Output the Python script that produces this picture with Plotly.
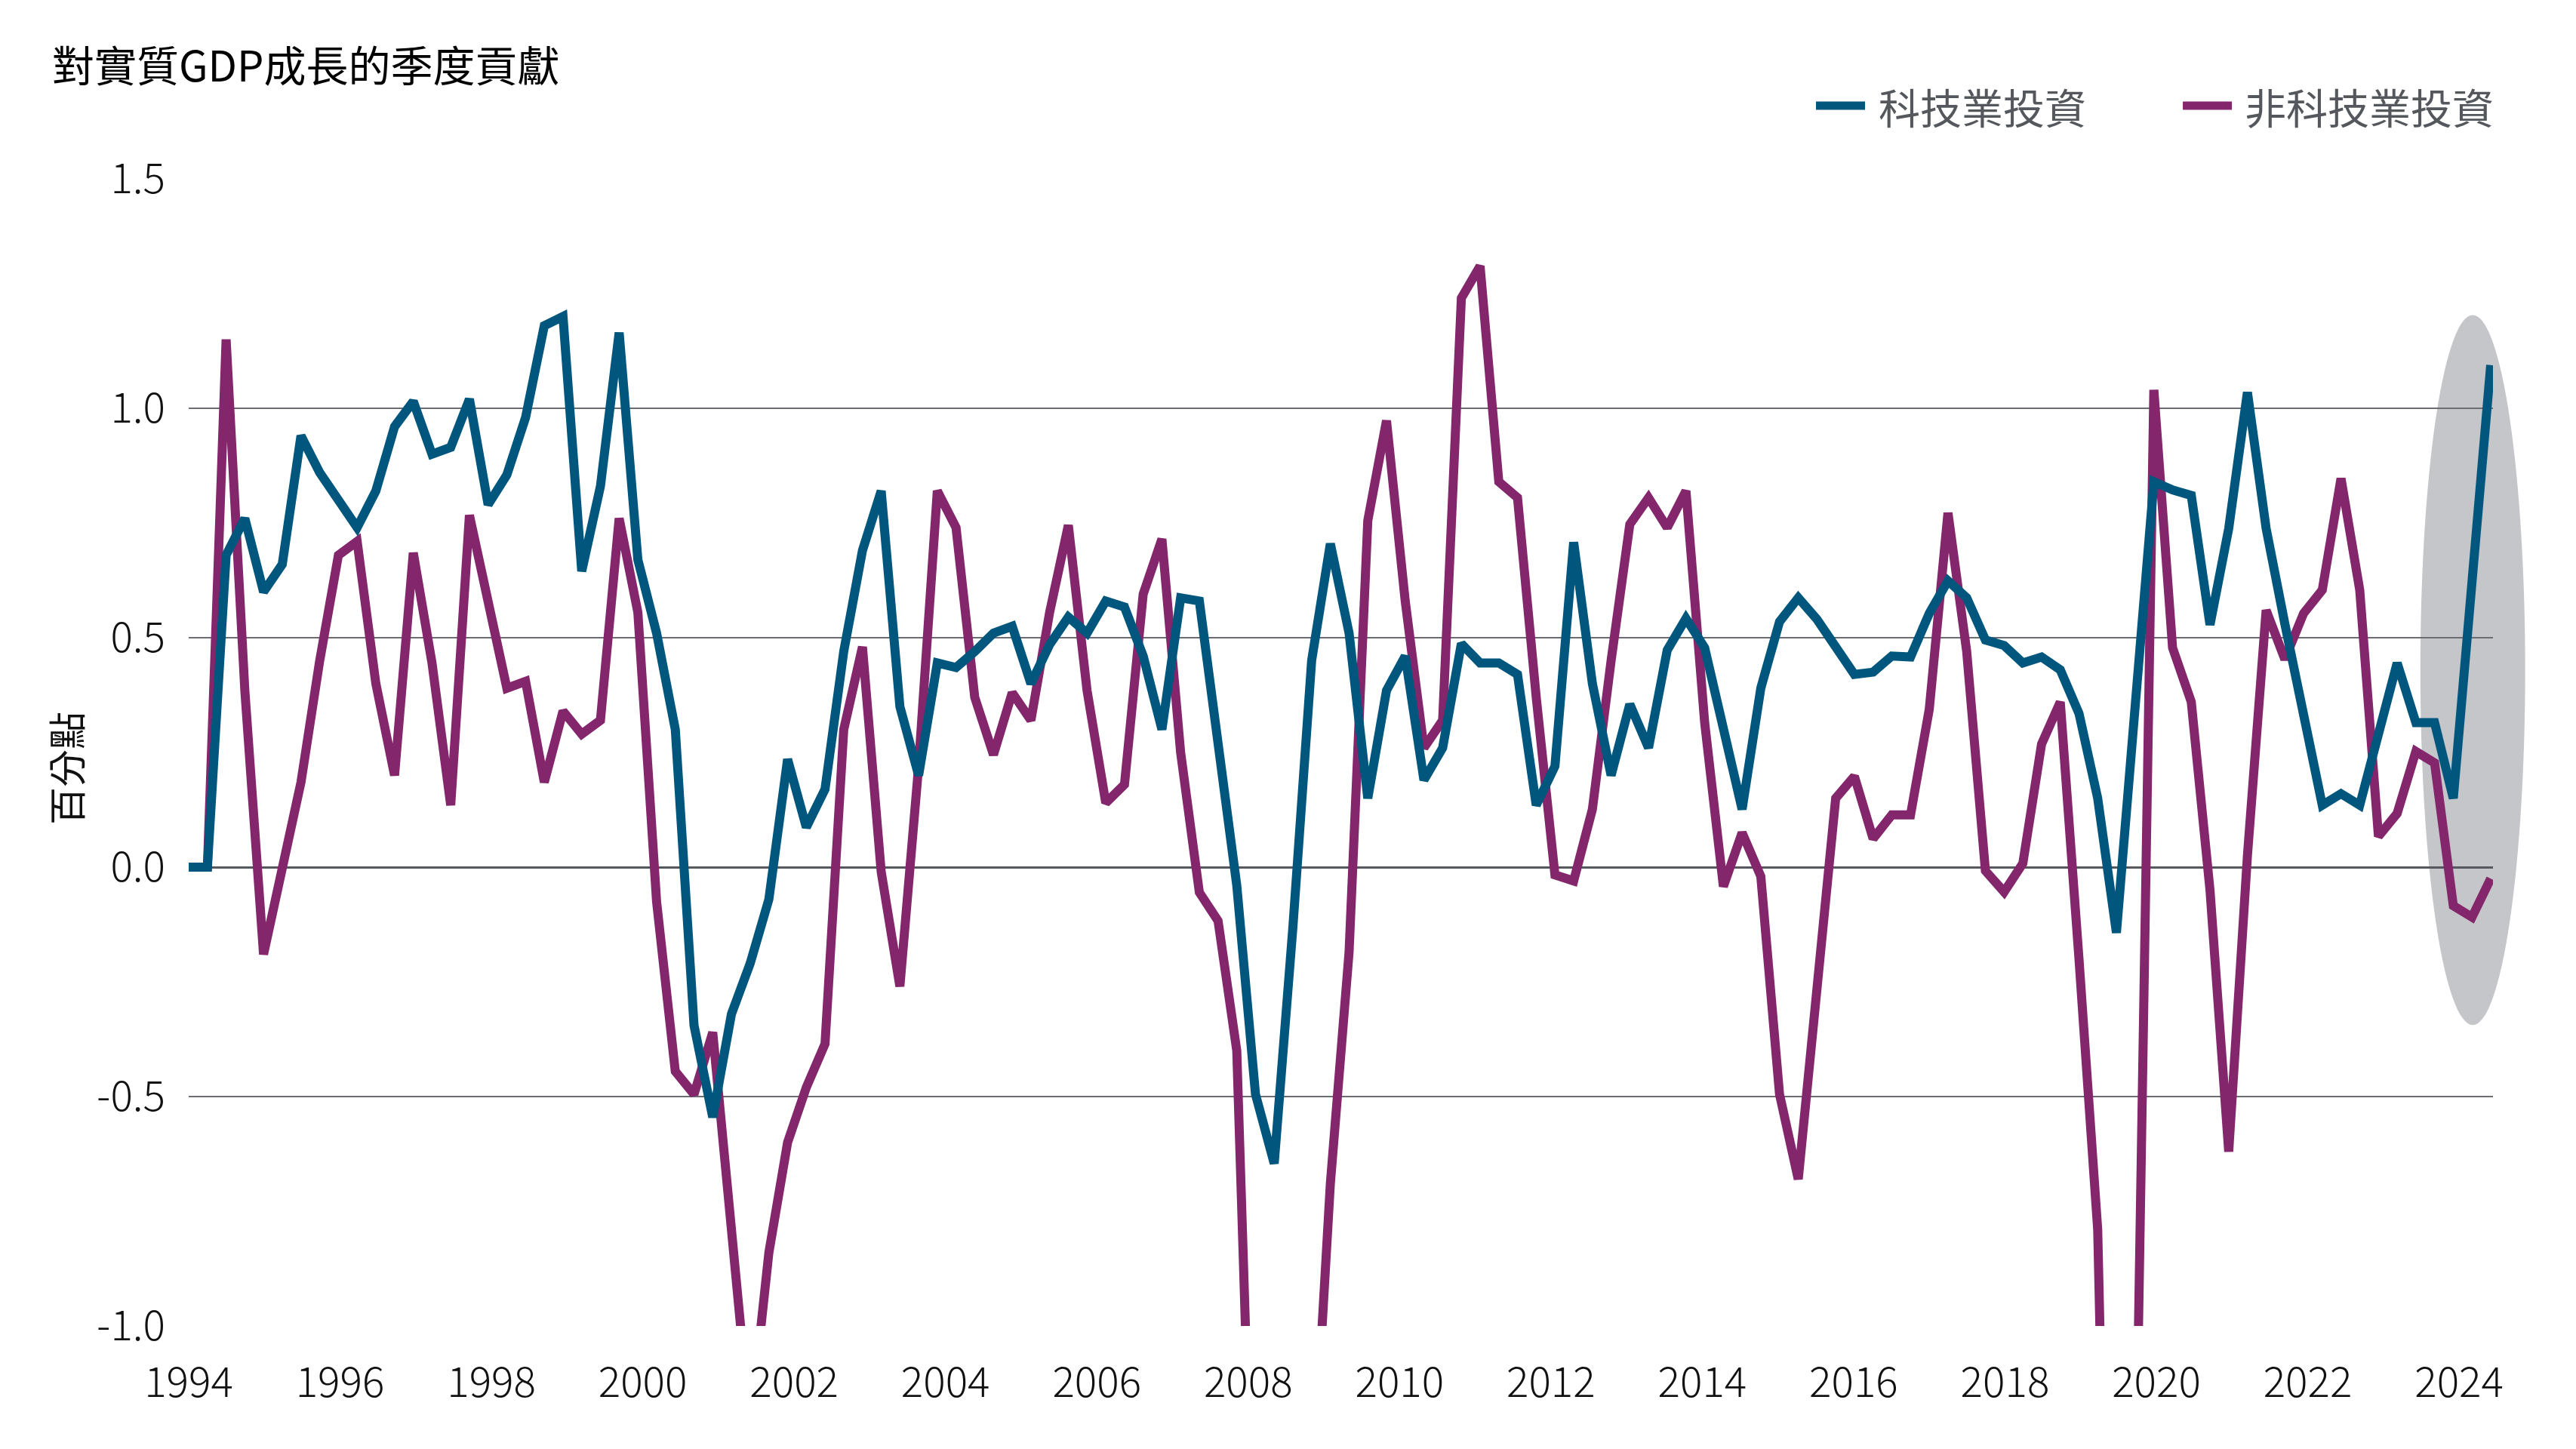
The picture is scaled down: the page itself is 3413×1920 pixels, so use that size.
import pandas as pd
import plotly.graph_objects as go

# 季度 1994Q1 - 2024Q4
quarters = pd.period_range("1994Q1", "2024Q4", freq="Q")

tech = [
    0.00, 0.00, 0.68, 0.76, 0.60, 0.66, 0.94, 0.86, 0.80, 0.74,
    0.82, 0.96, 1.015, 0.90, 0.915, 1.02, 0.79, 0.855, 0.98, 1.18,
    1.20, 0.645, 0.83, 1.165, 0.67, 0.51, 0.30, -0.345, -0.545, -0.32,
    -0.21, -0.07, 0.235, 0.087, 0.17, 0.47, 0.69, 0.82, 0.35, 0.20,
    0.445, 0.435, 0.47, 0.51, 0.525, 0.40, 0.485, 0.545, 0.51, 0.58,
    0.567, 0.46, 0.30, 0.587, 0.58, 0.28, -0.04, -0.495, -0.646, -0.13,
    0.45, 0.705, 0.51, 0.15, 0.385, 0.46, 0.19, 0.26, 0.487, 0.445,
    0.445, 0.42, 0.135, 0.22, 0.708, 0.40, 0.20, 0.355, 0.26, 0.473,
    0.542, 0.478, 0.30, 0.126, 0.39, 0.535, 0.587, 0.54, 0.48, 0.42,
    0.425, 0.46, 0.458, 0.553, 0.624, 0.587, 0.495, 0.483, 0.445, 0.458,
    0.43, 0.335, 0.15, -0.143, 0.35, 0.84, 0.822, 0.81, 0.528, 0.738,
    1.035, 0.738, 0.53, 0.33, 0.135, 0.16, 0.135, 0.29, 0.445, 0.315,
    0.315, 0.15, 0.60, 1.094,
]

non_tech = [
    0.00, 0.00, 1.15, 0.385, -0.19, -0.01, 0.185, 0.45, 0.68, 0.71,
    0.40, 0.20, 0.685, 0.445, 0.135, 0.767, 0.57, 0.39, 0.405, 0.185,
    0.34, 0.29, 0.32, 0.76, 0.555, -0.075, -0.445, -0.495, -0.36, -0.81,
    -1.22, -0.84, -0.60, -0.48, -0.385, 0.30, 0.48, -0.01, -0.26, 0.22,
    0.82, 0.74, 0.37, 0.245, 0.38, 0.32, 0.555, 0.745, 0.385, 0.14,
    0.18, 0.595, 0.715, 0.25, -0.055, -0.117, -0.40, -1.7, -2.2, -2.1,
    -1.43, -0.69, -0.185, 0.755, 0.973, 0.58, 0.26, 0.32, 1.24, 1.31,
    0.84, 0.805, 0.37, -0.017, -0.03, 0.126, 0.45, 0.747, 0.805, 0.74,
    0.82, 0.315, -0.042, 0.075, -0.02, -0.495, -0.68, -0.24, 0.15, 0.198,
    0.062, 0.114, 0.114, 0.344, 0.772, 0.47, -0.008, -0.054, 0.008, 0.268,
    0.36, -0.20, -0.79, -2.6, -1.45, 1.04, 0.478, 0.36, -0.05, -0.62,
    0.025, 0.56, 0.453, 0.553, 0.604, 0.847, 0.604, 0.067, 0.117, 0.252,
    0.227, -0.084, -0.109, -0.025,
]

series_names = ["科技業投資", "非科技業投資"]
y_ticks = [-1.0, -0.5, 0.0, 0.5, 1.0, 1.5]
y_tick_labels = ["-1.0", "-0.5", "0.0", "0.5", "1.0", "1.5"]
x_tick_years = list(range(1994, 2025, 2))

BLUE = "#00567c"
PURPLE = "#84266b"
FONT = "Noto Sans CJK TC"

x = [q.year + (q.quarter - 1) / 4 for q in quarters]
x_range = [x[0], x[-1] + 0.03]

# 原圖年份標籤比季度資料點略寬一些 (每年約 1.011 個刻度單位)
label_step = 1.0109
tick_pos = [1994 + (y - 1994) * label_step for y in x_tick_years]

fig = go.Figure()
fig.add_trace(go.Scatter(x=x, y=non_tech, mode="lines", name=series_names[1],
                         line=dict(color=PURPLE, width=12)))
fig.add_trace(go.Scatter(x=x, y=tech, mode="lines", name=series_names[0],
                         line=dict(color=BLUE, width=12)))

# 2024 標示橢圓
ell_x = [2023.81, 2025.21]
to_paper = lambda v: (v - x_range[0]) / (x_range[1] - x_range[0])
fig.add_shape(type="circle", xref="paper", yref="y",
              x0=to_paper(ell_x[0]), x1=to_paper(ell_x[1]), y0=-0.344, y1=1.203,
              fillcolor="#c5c6ca", line=dict(width=0), layer="below")

# 圖例（手動）
legend_items = [(series_names[0], BLUE, 0.7062, 0.7275, 0.7327),
                (series_names[1], PURPLE, 0.8654, 0.8867, 0.8916)]
for name, color, x0, x1, xt in legend_items:
    fig.add_shape(type="line", xref="paper", yref="paper", x0=x0, x1=x1,
                  y0=1.0638, y1=1.0638, line=dict(color=color, width=11))
    fig.add_annotation(text=name, xref="paper", yref="paper", x=xt, y=1.0638,
                       xanchor="left", yanchor="middle", showarrow=False,
                       font=dict(family=FONT, size=55, color="#54575c"))

fig.add_annotation(text="百分點", xref="paper", yref="paper", x=-0.0535, y=0.486,
                   textangle=-90, showarrow=False, xanchor="center", yanchor="middle",
                   font=dict(family=FONT, size=50, color="#111111"))

# 頁面 body 有 8px 邊距，圖寬高扣掉
fig.update_layout(
    width=3405, height=1912,
    margin=dict(l=242, r=110, t=229, b=163),
    paper_bgcolor="white", plot_bgcolor="white",
    showlegend=False,
    title=dict(text="對實質GDP成長的季度貢獻", x=61 / 3405, y=1 - 80 / 1912,
               xanchor="left", yanchor="middle",
               font=dict(family=FONT, size=56, color="#000000")),
    font=dict(family=FONT, size=55, color="#111111"),
)
fig.update_xaxes(range=x_range, tickvals=tick_pos,
                 ticktext=[str(v) for v in x_tick_years],
                 showgrid=False, zeroline=False, showline=False,
                 ticks="", ticklabelstandoff=38,
                 tickfont=dict(family=FONT, size=55, color="#111111", weight=300))
fig.update_yaxes(range=[-1.0, 1.5], tickvals=y_ticks, ticktext=y_tick_labels,
                 showgrid=True, gridcolor="#6b6d72", gridwidth=2,
                 zeroline=True, zerolinecolor="#55585f", zerolinewidth=3,
                 showline=False, ticks="", ticklabelstandoff=30,
                 tickfont=dict(family=FONT, size=55, color="#111111", weight=300))

fig.write_html("out.html")
